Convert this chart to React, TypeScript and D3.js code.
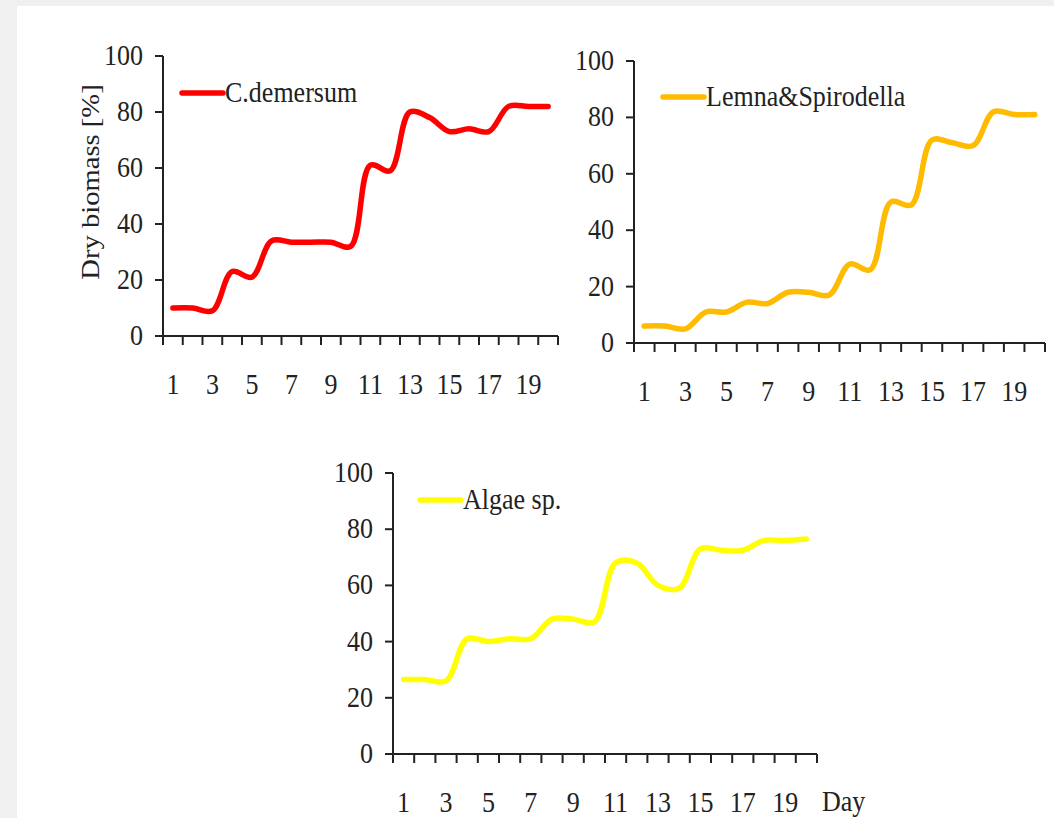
import React, { useRef, useEffect } from "react";
import * as d3 from "d3";

// days on the x axis
const days = [1, 2, 3, 4, 5, 6, 7, 8, 9, 10, 11, 12, 13, 14, 15, 16, 17, 18, 19, 20];
const dayLabels = ["1", "3", "5", "7", "9", "11", "13", "15", "17", "19"];
const yTicks = [0, 20, 40, 60, 80, 100];

// dry biomass [%] per day
const cDemersum = [10, 10, 9, 23, 21, 34, 33.5, 33.5, 33.5, 32, 61, 59, 80, 78, 73, 74, 73, 82, 82, 82];
const lemnaSpirodella = [6, 6, 5, 11, 11, 14.5, 14, 18, 18, 17, 28, 26, 50, 49, 72, 71, 70, 82, 81, 81];
const algae = [26.5, 26.5, 26, 41, 40, 41, 41, 48, 48, 47, 68, 68, 60, 59, 73, 72.5, 72.5, 76, 76, 76.5];

const seriesNames = ["C.demersum", "Lemna&Spirodella", "Algae sp."];
const seriesColors = ["#ff0000", "#ffbb00", "#ffff00"];

const font = "'Liberation Serif', 'Times New Roman', serif";
const ink = "#222";
const stretch = 1.1; // text in the picture is a bit taller than plain Times

// one panel box per chart: axis origin / extents in page pixels
const panels = [
  { data: cDemersum, x0: 163, x1: 558, yTop: 56, yBot: 336, legX: 182, legY: 93, yTitle: true, dayTitle: false },
  { data: lemnaSpirodella, x0: 634, x1: 1045, yTop: 61, yBot: 343, legX: 663, legY: 97, yTitle: false, dayTitle: false },
  { data: algae, x0: 393, x1: 817, yTop: 473, yBot: 754, legX: 420, legY: 500, yTitle: false, dayTitle: true },
];

const App = () => {
  const svgRef = useRef(null);

  useEffect(() => {
    const svg = d3.select(svgRef.current);
    svg.selectAll("*").remove();

    svg.append("rect").attr("width", 1054).attr("height", 818).attr("fill", "#f0f0f0");
    svg.append("rect").attr("x", 17).attr("y", 6).attr("width", 1054 - 17).attr("height", 818 - 6).attr("fill", "#fff");

    const label = (g, x, y, txt, anchor) =>
      g.append("text")
        .attr("transform", `translate(${x}, ${y}) scale(1, ${stretch})`)
        .attr("text-anchor", anchor)
        .attr("font-family", font)
        .attr("font-size", 26)
        .attr("fill", ink)
        .text(txt);

    panels.forEach((p, k) => {
      const g = svg.append("g");
      const xBand = d3.scaleBand().domain(days.map(String)).range([p.x0, p.x1]).padding(0);
      const xc = (d) => xBand(String(d)) + xBand.bandwidth() / 2;
      const y = d3.scaleLinear().domain([0, 100]).range([p.yBot, p.yTop]);

      // y axis
      g.append("line")
        .attr("x1", p.x0).attr("x2", p.x0)
        .attr("y1", y(100)).attr("y2", y(0))
        .attr("stroke", ink).attr("stroke-width", 2);
      g.selectAll(".ytick")
        .data(yTicks)
        .join("line")
        .attr("x1", p.x0 - 8).attr("x2", p.x0)
        .attr("y1", d => y(d)).attr("y2", d => y(d))
        .attr("stroke", ink).attr("stroke-width", 2);
      yTicks.forEach(d => label(g, p.x0 - 20, y(d) + 9, d, "end"));

      // x axis
      g.append("line")
        .attr("x1", p.x0 - 7).attr("x2", p.x1)
        .attr("y1", y(0)).attr("y2", y(0))
        .attr("stroke", ink).attr("stroke-width", 2);
      const bounds = days.map(d => xBand(String(d))).concat([p.x1]);
      g.selectAll(".xtick")
        .data(bounds)
        .join("line")
        .attr("x1", d => d).attr("x2", d => d)
        .attr("y1", y(0)).attr("y2", y(0) + 9)
        .attr("stroke", ink).attr("stroke-width", 2);
      dayLabels.forEach(d => label(g, xc(+d), y(0) + 58, d, "middle"));

      // smoothed line
      const line = d3.line()
        .x((d, i) => xc(days[i]))
        .y(d => y(d))
        .curve(d3.curveCatmullRom.alpha(0.5));
      g.append("path")
        .attr("d", line(p.data))
        .attr("fill", "none")
        .attr("stroke", seriesColors[k])
        .attr("stroke-width", 5.5)
        .attr("stroke-linejoin", "round")
        .attr("stroke-linecap", "round");

      // legend
      g.append("line")
        .attr("x1", p.legX).attr("x2", p.legX + 41)
        .attr("y1", p.legY).attr("y2", p.legY)
        .attr("stroke", seriesColors[k]).attr("stroke-width", 5.5)
        .attr("stroke-linecap", "round");
      label(g, p.legX + 43, p.legY + 9, seriesNames[k], "start");

      if (p.yTitle) {
        g.append("text")
          .attr("transform", `translate(99, ${(p.yTop + p.yBot) / 2 - 14}) scale(1, ${stretch}) rotate(-90)`)
          .attr("text-anchor", "middle")
          .attr("font-family", font)
          .attr("font-size", 26)
          .attr("fill", ink)
          .text("Dry biomass [%]");
      }
      if (p.dayTitle) {
        label(g, p.x1 + 5, y(0) + 57, "Day", "start");
      }
    });
  }, []);

  return (
    <svg ref={svgRef} width={1054} height={818}
      style={{ position: "absolute", left: 0, top: 0, display: "block" }} />
  );
};

export default App;
